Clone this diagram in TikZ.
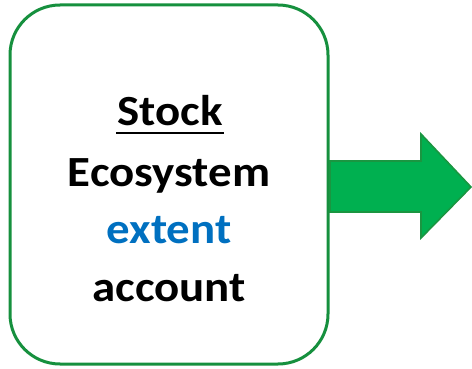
\documentclass[tikz,border=0pt]{standalone}
\usepackage{fontspec}
\setmainfont{Carlito}
\definecolor{boxgreen}{HTML}{16903E}
\definecolor{arrowfill}{HTML}{00B050}
\definecolor{arrowline}{HTML}{1A9641}
\definecolor{extentblue}{HTML}{0070C0}
\begin{document}
\begin{tikzpicture}[x=1pt,y=-1pt,
  label text/.style={font=\fontsize{43}{51}\selectfont\bfseries, anchor=base, inner sep=0pt, xscale=1.09}]
\useasboundingbox (0,0) rectangle (472,369);
% rounded account box
\draw[boxgreen, line width=3pt, rounded corners=50pt] (10,5) rectangle (328,364);
% block arrow
\draw[arrowline, fill=arrowfill, line width=1.6pt, line join=miter]
  (330,161) -- (421,161) -- (421,134) -- (471,187) -- (421,238) -- (421,212) -- (330,212) -- cycle;
% text lines
\node[label text] (stock) at (170,126) {Stock};
\draw[line width=2pt] ([xshift=-1pt,yshift=-7pt]stock.base west) -- ([xshift=1pt,yshift=-7pt]stock.base east);
\node[label text] (eco) at (169,186) {Ecosystem};
\node[label text, text=extentblue] (ext) at (169,243) {extent};
\node[label text] (acc) at (169,301) {account};
\end{tikzpicture}
\end{document}
